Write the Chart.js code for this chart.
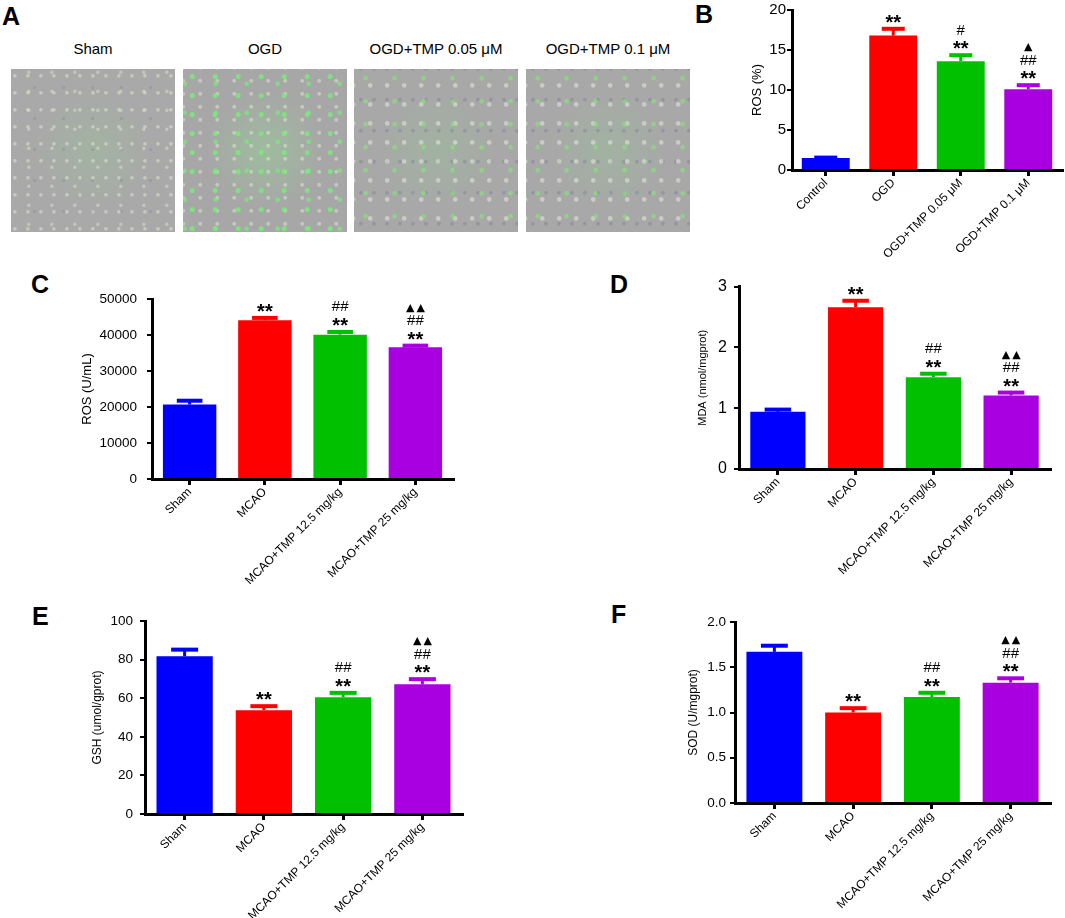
<!DOCTYPE html>
<html>
<head>
<meta charset="utf-8">
<script src="https://cdn.jsdelivr.net/npm/chart.js@4.4.0/dist/chart.umd.min.js"></script>
<style>
  body { margin: 0; background: #fff; width: 1065px; height: 918px; position: relative; overflow: hidden;
         font-family: "Liberation Sans", Arial, sans-serif; color: #000; }
  .tag { position: absolute; font-weight: bold; font-size: 25px; line-height: 1; }
  .cap { position: absolute; top: 41px; width: 164px; text-align: center; font-size: 15px; line-height: 15px; }
  .cells { position: absolute; top: 69px; width: 164px; height: 163px;
           background:
             radial-gradient(circle at 30% 40%, rgba(225,225,210,.55) 0 1.3px, transparent 2.3px) 0 0 / 13px 17px,
             radial-gradient(circle at 60% 70%, rgba(225,225,205,.5) 0 1.2px, transparent 2.2px) 4px 9px / 23px 19px,
             radial-gradient(circle at 50% 50%, rgba(120,128,150,.3) 0 1.3px, transparent 2.2px) 9px 3px / 29px 31px,
             radial-gradient(ellipse at 50% 50%, rgba(150,195,150,.4), rgba(168,168,168,0) 50%),
             #a9a9a9; }
  .cells.green {
           background:
             radial-gradient(circle at 40% 40%, rgba(120,235,120,.85) 0 2px, transparent 3px) 0 0 / 23px 19px,
             radial-gradient(circle at 70% 30%, rgba(120,235,120,.7) 0 1.8px, transparent 2.8px) 11px 6px / 31px 29px,
             radial-gradient(circle at 60% 60%, rgba(225,235,210,.5) 0 1.4px, transparent 2.4px) 7px 4px / 17px 13px,
             radial-gradient(ellipse at 50% 50%, rgba(150,205,150,.55), rgba(168,168,168,0) 50%),
             #a7a7a7; }
  .cells.mid {
           background:
             radial-gradient(circle at 40% 40%, rgba(135,225,120,.7) 0 1.8px, transparent 2.8px) 0 0 / 29px 23px,
             radial-gradient(circle at 60% 60%, rgba(225,228,215,.6) 0 1.8px, transparent 2.8px) 6px 5px / 17px 19px,
             radial-gradient(circle at 30% 70%, rgba(110,118,150,.35) 0 1.4px, transparent 2.4px) 3px 9px / 13px 31px,
             radial-gradient(ellipse at 50% 50%, rgba(150,195,150,.4), rgba(168,168,168,0) 50%),
             #a8a8a8; }
  .box { position: absolute; }
</style>
</head>
<body>

<div class="tag" style="left:2px;top:4px">A</div>
<div class="tag" style="left:695px;top:2px">B</div>
<div class="tag" style="left:31px;top:272px">C</div>
<div class="tag" style="left:610px;top:272px">D</div>
<div class="tag" style="left:32px;top:604px">E</div>
<div class="tag" style="left:611px;top:602px">F</div>

<div class="cap" style="left:11px">Sham</div>
<div class="cap" style="left:183px">OGD</div>
<div class="cap" style="left:354px">OGD+TMP 0.05 μM</div>
<div class="cap" style="left:526px">OGD+TMP 0.1 μM</div>
<div class="cells" style="left:11px"></div>
<div class="cells green" style="left:183px"></div>
<div class="cells mid" style="left:354px"></div>
<div class="cells mid" style="left:526px"></div>

<div class="box" style="left:705px;top:0px"><canvas id="chartB" width="360" height="262"></canvas></div>
<div class="box" style="left:60px;top:280px"><canvas id="chartC" width="410" height="320"></canvas></div>
<div class="box" style="left:640px;top:270px"><canvas id="chartD" width="420" height="330"></canvas></div>
<div class="box" style="left:60px;top:605px"><canvas id="chartE" width="420" height="313"></canvas></div>
<div class="box" style="left:640px;top:605px"><canvas id="chartF" width="420" height="313"></canvas></div>

<script>
// groups
const cellGroups = ['Control', 'OGD', 'OGD+TMP 0.05 μM', 'OGD+TMP 0.1 μM'];
const ratGroups = ['Sham', 'MCAO', 'MCAO+TMP 12.5 mg/kg', 'MCAO+TMP 25 mg/kg'];
const barColors = ['#0000ff', '#ff0000', '#00c000', '#a800e0'];

// B: ROS in cells (%)
const rosCells = [1.5, 16.8, 13.6, 10.1];
const rosCellsErr = [0.3, 1.1, 1.0, 0.75];
const rosCellsMarks = [[], ['**'], ['**', '#'], ['**', '##', '▲']];

// C: ROS in brain (U/mL)
const rosBrain = [20700, 44100, 40100, 36600];
const rosBrainErr = [1600, 1200, 1300, 1000];
const rosBrainMarks = [[], ['**'], ['**', '##'], ['**', '##', '▲▲']];

// D: MDA (nmol/mgprot)
const mda = [0.94, 2.66, 1.51, 1.21];
const mdaErr = [0.07, 0.14, 0.09, 0.08];
const mdaMarks = [[], ['**'], ['**', '##'], ['**', '##', '▲▲']];

// E: GSH (umol/gprot)
const gsh = [81.7, 53.8, 60.5, 67.2];
const gshErr = [4.5, 3.1, 3.3, 3.7];
const gshMarks = [[], ['**'], ['**', '##'], ['**', '##', '▲▲']];

// F: SOD (U/mgprot)
const sod = [1.67, 1.00, 1.17, 1.33];
const sodErr = [0.09, 0.07, 0.07, 0.07];
const sodMarks = [[], ['**'], ['**', '##'], ['**', '##', '▲▲']];

const FONT = '"Liberation Sans", Arial, sans-serif';

// error bar (upper only) + significance marks
const errorBars = {
  id: 'errorBars',
  afterDatasetsDraw(chart, args, opts) {
    const ctx = chart.ctx;
    const y = chart.scales.y;
    chart.getDatasetMeta(0).data.forEach((bar, i) => {
      const top = y.getPixelForValue(opts.values[i] + opts.errors[i]);
      const half = bar.width * 0.24;
      ctx.save();
      ctx.strokeStyle = barColors[i];
      ctx.lineWidth = 3;
      ctx.beginPath();
      ctx.moveTo(bar.x, bar.y);
      ctx.lineTo(bar.x, top + 2);
      ctx.stroke();
      ctx.lineWidth = 4;
      ctx.beginPath();
      ctx.moveTo(bar.x - half, top + 2);
      ctx.lineTo(bar.x + half, top + 2);
      ctx.stroke();

      ctx.fillStyle = '#000';
      ctx.textAlign = 'center';
      ctx.textBaseline = 'alphabetic';
      opts.marks[i].forEach((m, k) => {
        const cy = top - 10 - k * 13.5;
        if (m[0] === '*') {
          ctx.font = 'bold 20px ' + FONT;
          ctx.fillText(m, bar.x, cy + 12);
        } else if (m[0] === '#') {
          ctx.font = '15px ' + FONT;
          ctx.fillText(m, bar.x, cy + 5);
        } else {
          ctx.font = '11px "DejaVu Sans"';
          ctx.letterSpacing = '2px';
          ctx.fillText(m, bar.x + 1, cy + 4);
          ctx.letterSpacing = '0px';
        }
      });
      ctx.restore();
    });
  }
};

function barPanel(id, labels, values, errors, marks, cfg) {
  new Chart(document.getElementById(id), {
    type: 'bar',
    data: {
      labels: labels,
      datasets: [{
        data: values,
        backgroundColor: barColors,
        borderWidth: 0,
        barPercentage: 0.71,
        categoryPercentage: 1
      }]
    },
    options: {
      responsive: false,
      animation: false,
      layout: { padding: { top: cfg.padTop, right: cfg.padRight, left: 0, bottom: 0 } },
      plugins: {
        legend: { display: false },
        tooltip: { enabled: false },
        errorBars: { values: values, errors: errors, marks: marks }
      },
      scales: {
        x: {
          afterFit(s) { s.height = cfg.xHeight; },
          grid: { drawOnChartArea: false, offset: false, color: '#000', lineWidth: 3, tickLength: 6 },
          border: { color: '#000', width: 3 },
          ticks: { minRotation: 45, maxRotation: 45, autoSkip: false, color: '#000', padding: 0,
                   font: { family: FONT, size: 12 } }
        },
        y: {
          min: 0,
          max: cfg.max,
          afterFit(s) { s.width = cfg.yWidth; },
          grid: { drawOnChartArea: false, color: '#000', lineWidth: 2, tickLength: 5 },
          border: { color: '#000', width: 3 },
          ticks: { stepSize: cfg.step, color: '#000', padding: cfg.tickPad,
                   font: { family: FONT, size: cfg.tickSize },
                   callback: cfg.fmt || (v => v) },
          title: { display: true, text: cfg.title, color: '#000',
                   font: { family: FONT, size: cfg.titleSize },
                   padding: { top: cfg.titlePad, bottom: 0 } }
        }
      }
    },
    plugins: [errorBars]
  });
}

barPanel('chartB', cellGroups, rosCells, rosCellsErr, rosCellsMarks,
  { max: 20, step: 5, title: 'ROS (%)', titleSize: 13, titlePad: 45, tickSize: 15, tickPad: 1,
    yWidth: 87, xHeight: 92, padTop: 8, padRight: 3 });

barPanel('chartC', ratGroups, rosBrain, rosBrainErr, rosBrainMarks,
  { max: 50000, step: 10000, title: 'ROS (U/mL)', titleSize: 13, titlePad: 20, tickSize: 13.5, tickPad: 10,
    yWidth: 92, xHeight: 121, padTop: 19, padRight: 17 });

barPanel('chartD', ratGroups, mda, mdaErr, mdaMarks,
  { max: 3, step: 1, title: 'MDA (nmol/mgprot)', titleSize: 11, titlePad: 56, tickSize: 16, tickPad: 7,
    yWidth: 99, xHeight: 131, padTop: 16, padRight: 10 });

barPanel('chartE', ratGroups, gsh, gshErr, gshMarks,
  { max: 100, step: 20, title: 'GSH (umol/gprot)', titleSize: 12, titlePad: 30, tickSize: 13.5, tickPad: 7,
    yWidth: 85, xHeight: 104, padTop: 16, padRight: 18 });

barPanel('chartF', ratGroups, sod, sodErr, sodMarks,
  { max: 2, step: 0.5, title: 'SOD (U/mgprot)', titleSize: 12, titlePad: 46, tickSize: 13.5, tickPad: 4,
    yWidth: 95, xHeight: 115, padTop: 17, padRight: 10, fmt: v => v.toFixed(1) });
</script>
</body>
</html>
